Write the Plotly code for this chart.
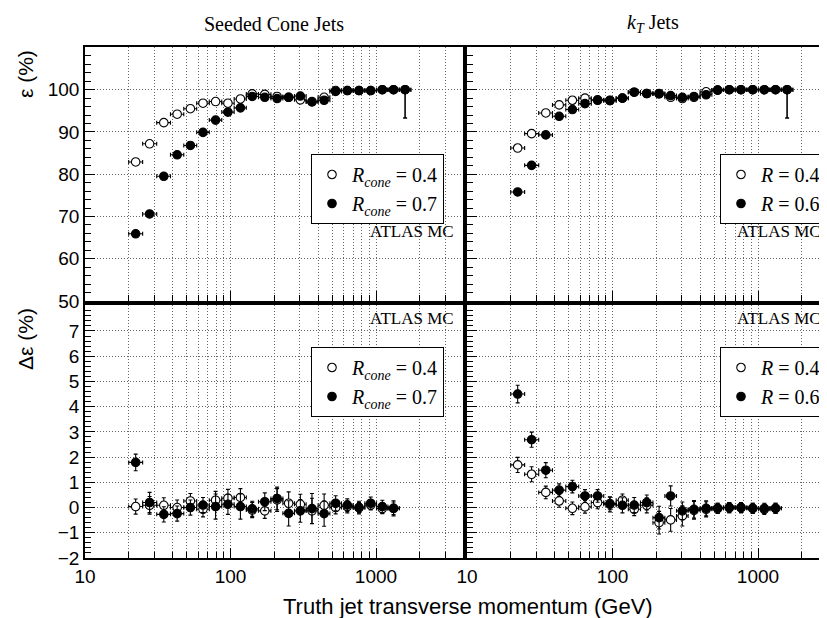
import numpy as np
import plotly.graph_objects as go

# ---------------- data ----------------
pt = [22.3, 27.8, 34.8, 43.0, 53.0, 64.7, 79.0, 96.0, 117, 141, 172, 209, 251,
      302, 363, 440, 528, 635, 764, 920, 1105, 1320, 1585]

# efficiency, seeded cone
eff_cone04 = [82.9, 87.2, 92.2, 94.2, 95.5, 96.8, 97.2, 96.8, 97.8, 99.0, 98.9, 98.4,
              98.2, 97.6, 97.2, 98.2, 99.8, 99.8, 99.8, 99.8, 100.0, 100.0, 100.0]
eff_cone07 = [65.9, 70.6, 79.5, 84.6, 86.8, 89.9, 92.8, 94.7, 95.7, 98.4, 98.2, 97.9,
              98.2, 98.5, 97.1, 97.5, 99.6, 99.8, 99.8, 99.8, 100.0, 100.0, 100.0]
# efficiency, kT
eff_kt04 = [86.2, 89.6, 94.5, 96.4, 97.5, 98.0, 97.6, 97.4, 98.0, 99.4, 99.1, 99.0,
            98.2, 97.9, 98.2, 99.5, 99.9, 100.0, 100.0, 100.0, 100.0, 100.0, 100.0]
eff_kt06 = [75.8, 82.1, 89.3, 93.7, 95.3, 96.7, 97.5, 97.5, 98.0, 99.4, 99.1, 99.1,
            98.6, 98.2, 98.4, 98.8, 99.9, 100.0, 100.0, 100.0, 100.0, 100.0, 100.0]
eff_err_lo = [0.3] * 22 + [6.7]
eff_err_hi = [0.3] * 22 + [0.0]

# delta efficiency (22 bins)
d_cone04 = [0.04, 0.09, 0.09, 0.0, 0.26, -0.07, 0.29, 0.37, 0.4, -0.1, -0.13, 0.3,
            0.17, 0.13, -0.13, 0.09, 0.0, 0.04, 0.0, 0.1, -0.04, -0.03]
d_cone07 = [1.79, 0.2, -0.27, -0.24, 0.0, 0.1, 0.04, 0.13, 0.04, -0.05, 0.23, 0.36,
            -0.23, -0.13, -0.04, -0.24, 0.17, 0.1, 0.0, 0.17, 0.04, -0.03]
d_cone04_err = [0.3, 0.35, 0.3, 0.3, 0.3, 0.3, 0.35, 0.35, 0.35, 0.3, 0.3, 0.45,
                0.45, 0.4, 0.5, 0.45, 0.25, 0.25, 0.2, 0.2, 0.2, 0.25]
d_cone07_err = [0.33, 0.4, 0.3, 0.3, 0.3, 0.3, 0.5, 0.4, 0.5, 0.3, 0.35, 0.45,
                0.5, 0.45, 0.6, 0.5, 0.3, 0.25, 0.25, 0.25, 0.25, 0.3]
d_kt04 = [1.69, 1.32, 0.6, 0.26, -0.03, 0.03, 0.2, 0.16, 0.29, -0.07, 0.09, -0.6,
          -0.49, -0.33, -0.11, -0.07, -0.03, 0.0, 0.0, -0.03, -0.07, -0.03]
d_kt06 = [4.5, 2.69, 1.48, 0.69, 0.83, 0.46, 0.46, 0.13, 0.09, 0.1, 0.2, -0.4,
          0.46, -0.13, -0.07, -0.03, -0.03, 0.0, 0.0, -0.03, -0.03, -0.03]
d_kt04_err = [0.3, 0.3, 0.25, 0.25, 0.25, 0.25, 0.25, 0.25, 0.25, 0.25, 0.3, 0.45,
              0.45, 0.4, 0.35, 0.3, 0.2, 0.2, 0.2, 0.2, 0.2, 0.2]
d_kt06_err = [0.35, 0.3, 0.3, 0.25, 0.25, 0.25, 0.25, 0.3, 0.3, 0.3, 0.3, 0.45,
              0.4, 0.35, 0.35, 0.3, 0.2, 0.2, 0.2, 0.2, 0.2, 0.2]

x_major = [10, 100, 1000]
x_minor = [20, 30, 40, 50, 60, 70, 80, 90, 200, 300, 400, 500, 600, 700, 800, 900, 2000, 3000]
eff_ticks = [50, 60, 70, 80, 90, 100]
deff_ticks = [-2, -1, 0, 1, 2, 3, 4, 5, 6, 7]

# ---------------- bin half widths (log-space) ----------------
lp = np.log10(pt)
mid = (lp[1:] + lp[:-1]) / 2
edges = np.concatenate([[lp[0] - (mid[0] - lp[0])], mid, [lp[-1] + (lp[-1] - mid[-1])]])
xerr_hi = 10 ** edges[1:] - np.array(pt)
xerr_lo = np.array(pt) - 10 ** edges[:-1]

W, H = 827, 618
ML, MR, MT, MB = 77, 0, 39, 68
PW, PH = W - ML - MR, H - MT - MB


def px_x(p):
    return (p - ML) / PW


def px_y(p):
    return (H - MB - p) / PH


fig = go.Figure()


def add(y, ehi, elo, openm, xa, ya, name, leg, n):
    xs = pt[:n]
    fig.add_trace(go.Scatter(
        x=xs, y=y, mode="markers", name=name, legend=leg,
        xaxis=xa, yaxis=ya,
        marker=dict(symbol="circle", size=8.5,
                    color="white" if openm else "black",
                    line=dict(color="black", width=1.1)),
        error_y=dict(type="data", symmetric=False, array=ehi, arrayminus=elo,
                     color="black", thickness=1.1, width=2),
        error_x=dict(type="data", symmetric=False, array=list(xerr_hi[:n]),
                     arrayminus=list(xerr_lo[:n]), color="black", thickness=1.1, width=2),
    ))


cone04 = "<i>R</i><sub><i>cone</i></sub> = 0.4"
cone07 = "<i>R</i><sub><i>cone</i></sub> = 0.7"
kt04 = "<i>R</i> = 0.4"
kt06 = "<i>R</i> = 0.6"

add(eff_cone04, eff_err_hi, eff_err_lo, True, "x", "y", cone04, "legend", 23)
add(eff_cone07, eff_err_hi, eff_err_lo, False, "x", "y", cone07, "legend", 23)
add(eff_kt04, eff_err_hi, eff_err_lo, True, "x2", "y2", kt04, "legend2", 23)
add(eff_kt06, eff_err_hi, eff_err_lo, False, "x2", "y2", kt06, "legend2", 23)
add(d_cone04, d_cone04_err, d_cone04_err, True, "x3", "y3", cone04, "legend3", 22)
add(d_cone07, d_cone07_err, d_cone07_err, False, "x3", "y3", cone07, "legend3", 22)
add(d_kt04, d_kt04_err, d_kt04_err, True, "x4", "y4", kt04, "legend4", 22)
add(d_kt06, d_kt06_err, d_kt06_err, False, "x4", "y4", kt06, "legend4", 22)

grid = dict(gridcolor="#666666", griddash="1px,2px", gridwidth=1)
LEFT_DOM = [0, px_x(455)]
RIGHT_DOM = [px_x(459), 1]
TOP_DOM = [px_y(293), 1]
BOT_DOM = [0, px_y(297)]


def xax(dom, anchor, rng, labels):
    return dict(type="log", domain=dom, anchor=anchor, range=rng,
                tickmode="array", tickvals=x_major, ticktext=[str(v) for v in x_major],
                showticklabels=labels, ticks="inside", ticklen=10, tickwidth=1, tickcolor="black",
                showgrid=True, **grid,
                minor=dict(tickmode="array", tickvals=x_minor, ticks="inside", ticklen=6,
                           tickcolor="black", showgrid=True, **grid),
                showline=True, linecolor="black", linewidth=1.5, mirror=True,
                zeroline=False,
                tickfont=dict(family="Liberation Sans", size=19, color="black"))


def yax(dom, anchor, rng, tv, minor_dt, labels, mirror):
    return dict(domain=dom, anchor=anchor, range=rng, tickmode="array", tickvals=tv,
                showticklabels=labels, ticks="inside", ticklen=10, tickwidth=1, tickcolor="black",
                showgrid=True, **grid,
                minor=dict(dtick=minor_dt, tick0=0, ticks="inside", ticklen=6,
                           tickcolor="black", showgrid=False),
                showline=True, linecolor="black", linewidth=1.5, mirror=mirror,
                zeroline=False,
                tickfont=dict(family="Liberation Sans", size=19, color="black"))


XL = [1, 1 + (455 - 77) / 145.5]
XR = [1, 1 + (827 - 459) / 145.5]

legend_style = dict(bgcolor="white", bordercolor="black", borderwidth=1,
                    font=dict(family="Liberation Serif", size=20, color="black"),
                    xanchor="left", yanchor="top", tracegroupgap=0, itemwidth=30)

fig.update_layout(
    width=W, height=H, margin=dict(l=ML, r=MR, t=MT, b=MB),
    paper_bgcolor="white", plot_bgcolor="white",
    xaxis=xax(LEFT_DOM, "y", XL, False),
    xaxis2=xax(RIGHT_DOM, "y2", XR, False),
    xaxis3=xax(LEFT_DOM, "y3", XL, True),
    xaxis4=xax(RIGHT_DOM, "y4", XR, True),
    yaxis=yax(TOP_DOM, "x", [50, 110.1], eff_ticks, 2, True, True),
    yaxis2=yax(TOP_DOM, "x2", [50, 110.1], eff_ticks, 2, False, False),
    yaxis3=yax(BOT_DOM, "x3", [-2, 8.03], deff_ticks, 0.2, True, True),
    yaxis4=yax(BOT_DOM, "x4", [-2, 8.03], deff_ticks, 0.2, False, False),
    legend=dict(x=px_x(303), y=px_y(146), **legend_style),
    legend2=dict(x=px_x(712), y=px_y(146), **legend_style),
    legend3=dict(x=px_x(303), y=px_y(339), **legend_style),
    legend4=dict(x=px_x(712), y=px_y(339), **legend_style),
)

ann_font_serif = dict(family="Liberation Serif", size=20, color="black")
ann_font_sans = dict(family="Liberation Sans", size=21, color="black")
anns = [
    dict(text="Seeded Cone Jets", x=px_x(266), y=px_y(16), font=ann_font_serif,
         xanchor="center", yanchor="middle"),
    dict(text="<i>k</i><sub><i>T</i></sub> Jets", x=px_x(645), y=px_y(16), font=ann_font_serif,
         xanchor="center", yanchor="middle"),
    dict(text="Truth jet transverse momentum (GeV)", x=px_x(460), y=px_y(598),
         font=dict(family="Liberation Sans", size=22, color="black"),
         xanchor="center", yanchor="middle"),
    dict(text="ε (%)", x=px_x(17), y=px_y(40), textangle=-90, font=ann_font_sans,
         xanchor="center", yanchor="top"),
    dict(text="Δε (%)", x=px_x(17), y=px_y(298), textangle=-90, font=ann_font_sans,
         xanchor="center", yanchor="top"),
]
atlas_font = dict(family="Liberation Serif", size=17, color="black")
for xr, yc in [(448, 223), (815, 223), (448, 310), (815, 310)]:
    anns.append(dict(text="ATLAS MC", x=px_x(xr), y=px_y(yc), font=atlas_font,
                     xanchor="right", yanchor="middle"))
for a in anns:
    a.update(xref="paper", yref="paper", showarrow=False)
fig.update_layout(annotations=anns)

fig.write_html("out.html")
